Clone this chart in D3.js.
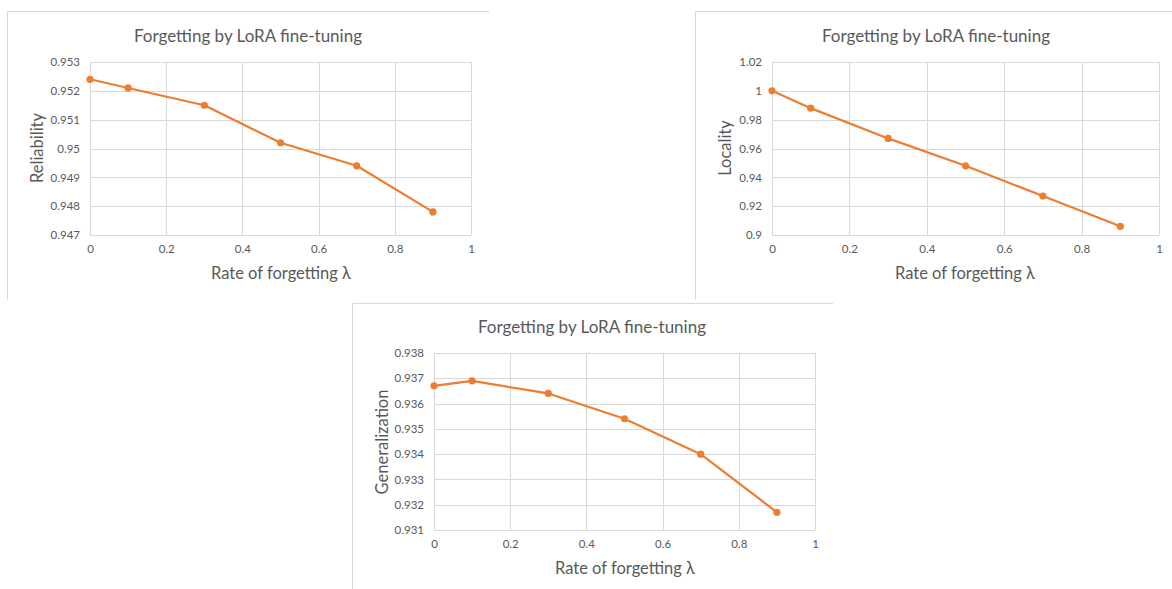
<!DOCTYPE html>
<html>
<head>
<meta charset="utf-8">
<script src="https://cdn.jsdelivr.net/npm/d3@7"></script>
<style>
  html, body { margin: 0; padding: 0; background: #fff; }
  svg { display: block; }
  text { font-family: Lato, "Open Sans", "DejaVu Sans", sans-serif; fill: #595959; }
</style>
</head>
<body>
<svg id="chart"></svg>
<script>
const width = 1172;
const height = 589;

const title = "Forgetting by LoRA fine-tuning";
const xLabel = "Rate of forgetting λ";

const lambdas = [0, 0.1, 0.3, 0.5, 0.7, 0.9];
const reliability = [0.9524, 0.9521, 0.9515, 0.9502, 0.9494, 0.9478];
const locality = [1.0, 0.988, 0.967, 0.948, 0.927, 0.906];
const generalization = [0.9367, 0.9369, 0.9364, 0.9354, 0.934, 0.9317];

const xTicks = [0, 0.2, 0.4, 0.6, 0.8, 1];
const reliabilityTicks = [0.947, 0.948, 0.949, 0.95, 0.951, 0.952, 0.953];
const localityTicks = [0.9, 0.92, 0.94, 0.96, 0.98, 1, 1.02];
const generalizationTicks = [0.931, 0.932, 0.933, 0.934, 0.935, 0.936, 0.937, 0.938];

const svg = d3.select("#chart").attr("width", width).attr("height", height);

// each panel is a cropped Excel chart: only its top and left borders show
const panels = [
  { values: reliability, yTicks: reliabilityTicks, yLabel: "Reliability",
    frame: { x: 7.5, y: 11.5, right: 489, bottom: 300 },
    plot: { x0: 90, x1: 471, y0: 62, y1: 235 },
    titleX: 248, titleY: 35, yLabelX: 37, yLabelY: 148, xLabelX: 281, xLabelY: 273 },
  { values: locality, yTicks: localityTicks, yLabel: "Locality",
    frame: { x: 695.5, y: 11.5, right: 1172, bottom: 300 },
    plot: { x0: 772, x1: 1159, y0: 62, y1: 235 },
    titleX: 936, titleY: 35, yLabelX: 725, yLabelY: 148, xLabelX: 965, xLabelY: 273 },
  { values: generalization, yTicks: generalizationTicks, yLabel: "Generalization",
    frame: { x: 352.5, y: 303.5, right: 833, bottom: 589 },
    plot: { x0: 434, x1: 815, y0: 353, y1: 530 },
    titleX: 592, titleY: 326, yLabelX: 382, yLabelY: 442, xLabelX: 625, xLabelY: 568 }
];

const drawPanel = (p) => {
  const g = svg.append("g");

  g.append("path")
    .attr("d", `M${p.frame.right},${p.frame.y}H${p.frame.x}V${p.frame.bottom}`)
    .attr("fill", "none")
    .attr("stroke", "#d9d9d9")
    .attr("stroke-width", 1);

  const x = d3.scaleLinear().domain([0, 1]).range([p.plot.x0, p.plot.x1]);
  const y = d3.scaleLinear()
    .domain(d3.extent(p.yTicks))
    .range([p.plot.y1, p.plot.y0]);

  // gridlines
  g.append("g")
    .attr("stroke", "#d9d9d9")
    .attr("stroke-width", 1)
    .selectAll("line.h")
    .data(p.yTicks)
    .join("line")
    .attr("x1", p.plot.x0).attr("x2", p.plot.x1)
    .attr("y1", (d) => Math.round(y(d)) + 0.5)
    .attr("y2", (d) => Math.round(y(d)) + 0.5);

  g.append("g")
    .attr("stroke", "#d9d9d9")
    .attr("stroke-width", 1)
    .selectAll("line.v")
    .data(xTicks)
    .join("line")
    .attr("y1", p.plot.y0).attr("y2", p.plot.y1)
    .attr("x1", (d) => Math.round(x(d)) + 0.5)
    .attr("x2", (d) => Math.round(x(d)) + 0.5);

  // axes (labels only, Excel style)
  const xAxis = d3.axisBottom(x).tickValues(xTicks).tickSize(0).tickPadding(10)
    .tickFormat(d3.format("~g"));
  g.append("g")
    .attr("transform", `translate(0,${p.plot.y1})`)
    .call(xAxis)
    .call((s) => s.select(".domain").remove())
    .selectAll("text")
    .style("font-size", "11.5px")
    .attr("fill", "#595959");

  const yAxis = d3.axisLeft(y).tickValues(p.yTicks).tickSize(0).tickPadding(10)
    .tickFormat(d3.format("~g"));
  g.append("g")
    .attr("transform", `translate(${p.plot.x0},0)`)
    .call(yAxis)
    .call((s) => s.select(".domain").remove())
    .selectAll("text")
    .style("font-size", "11.5px")
    .attr("fill", "#595959");

  // series
  const pts = lambdas.map((l, i) => [l, p.values[i]]);
  g.append("path")
    .datum(pts)
    .attr("fill", "none")
    .attr("stroke", "#ed7d31")
    .attr("stroke-width", 2.2)
    .attr("stroke-linejoin", "round")
    .attr("d", d3.line().x((d) => x(d[0])).y((d) => y(d[1])));

  g.selectAll("circle")
    .data(pts)
    .join("circle")
    .attr("cx", (d) => x(d[0]))
    .attr("cy", (d) => y(d[1]))
    .attr("r", 3.6)
    .attr("fill", "#ed7d31");

  // titles
  g.append("text")
    .attr("x", p.titleX).attr("y", p.titleY)
    .attr("text-anchor", "middle").attr("dominant-baseline", "central")
    .style("font-size", "17px")
    .text(title);

  g.append("text")
    .attr("x", p.xLabelX).attr("y", p.xLabelY)
    .attr("text-anchor", "middle").attr("dominant-baseline", "central")
    .style("font-size", "16.5px")
    .text(xLabel);

  g.append("text")
    .attr("transform", `translate(${p.yLabelX},${p.yLabelY}) rotate(-90)`)
    .attr("text-anchor", "middle").attr("dominant-baseline", "central")
    .style("font-size", "16.5px")
    .text(p.yLabel);
};

panels.forEach(drawPanel);
</script>
</body>
</html>
